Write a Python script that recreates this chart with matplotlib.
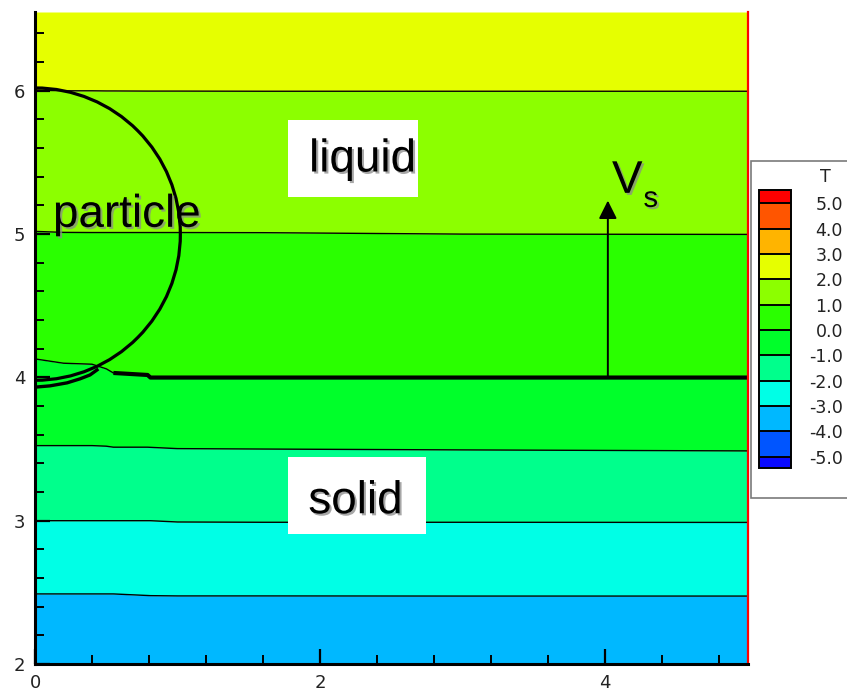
import matplotlib
matplotlib.use("Agg")
import matplotlib.pyplot as plt
import matplotlib.patheffects as pe
from matplotlib.patches import Rectangle, Circle
from matplotlib.colors import ListedColormap, BoundaryNorm
from matplotlib.cm import ScalarMappable
from matplotlib.ticker import MultipleLocator

plt.rcParams["axes.unicode_minus"] = False

# ---- temperature contour lines (y position of each level along x) ----
xs = [0.0, 0.2, 0.4, 0.5, 0.55, 0.79, 0.81, 1.0, 1.6, 3.0, 5.0]
y_Tm3 = [2.489, 2.489, 2.489, 2.489, 2.489, 2.478, 2.477, 2.475, 2.475, 2.474, 2.474]
y_Tm2 = [3.000, 3.000, 3.000, 3.000, 3.000, 3.000, 3.000, 2.991, 2.989, 2.989, 2.988]
y_Tm1 = [3.524, 3.524, 3.524, 3.520, 3.513, 3.513, 3.512, 3.503, 3.500, 3.494, 3.487]
y_T0 = [4.129, 4.099, 4.092, 4.060, 4.031, 4.017, 3.999, 3.999, 3.999, 3.999, 3.999]
y_T1 = [5.019, 5.012, 5.011, 5.011, 5.011, 5.011, 5.011, 5.011, 5.010, 5.000, 4.998]
y_T2 = [6.005, 6.000, 6.000, 5.999, 5.999, 5.998, 5.998, 5.998, 5.997, 5.997, 5.997]

contour_lines = [y_Tm3, y_Tm2, y_Tm1, y_T0, y_T1, y_T2]
band_colors = ["#00b8ff", "#00ffe6", "#00ff8c", "#00ff2a", "#2aff00", "#8cff00", "#e6ff00"]

# solidification front pulled around the particle near the axis
front_x = [0.0, 0.105, 0.225, 0.316, 0.386, 0.435]
front_y = [3.932, 3.941, 3.962, 3.990, 4.017, 4.052]

# particle (level-set circle)
particle_center = (0.0, 5.0)
particle_radius = 1.02

# growth velocity arrow
arrow_x = 4.02
arrow_y0 = 3.999
arrow_y1 = 5.234

# colour legend
legend_levels = [-5.0, -4.0, -3.0, -2.0, -1.0, 0.0, 1.0, 2.0, 3.0, 4.0, 5.0]
legend_colors = ["#0055ff", "#00b8ff", "#00ffe6", "#00ff8c", "#00ff2a",
                 "#2aff00", "#8cff00", "#e6ff00", "#ffb400", "#ff5500"]
under_color = "#0a0aff"
over_color = "#ff0000"

x_ticks = [0, 2, 4]
y_ticks = [2, 3, 4, 5, 6]

W, H = 847, 692
fig = plt.figure(figsize=(W / 100, H / 100), dpi=100)
ax = fig.add_axes([35 / W, 28 / H, 712.5 / W, 652 / H])
ymin, ymax = 2.0, 6.55
ax.set_xlim(0, 5)
ax.set_ylim(ymin, ymax)

# filled temperature bands
lowers = [[ymin] * len(xs)] + contour_lines
uppers = contour_lines + [[ymax] * len(xs)]
for lo, hi, c in zip(lowers, uppers, band_colors):
    ax.fill_between(xs, lo, hi, color=c, lw=0, zorder=1)

# contour lines
for ys in contour_lines:
    ax.plot(xs, ys, color="black", lw=1.0, zorder=2)

# thick solid/liquid interface
ax.plot(xs[4:], y_T0[4:], color="black", lw=3.0, solid_capstyle="butt", zorder=3)
ax.plot(front_x, front_y, color="black", lw=2.4, zorder=3)

# particle outline
ax.add_patch(Circle(particle_center, particle_radius, fill=False, ec="black",
                    lw=2.3, zorder=3))

# velocity arrow
ax.annotate("", xy=(arrow_x, arrow_y1), xytext=(arrow_x, arrow_y0),
            arrowprops=dict(arrowstyle="-|>,head_length=1.1,head_width=0.55",
                            mutation_scale=10, lw=1.4, color="black",
                            shrinkA=0, shrinkB=0),
            zorder=4)

shadow = [pe.withSimplePatchShadow(offset=(1.5, -1.5), shadow_rgbFace="#8a8a8a", alpha=0.75)]
label_font = dict(family=["Liberation Sans", "DejaVu Sans"], fontsize=33, color="black",
                  path_effects=shadow, zorder=6)

# region labels on white boxes
ax.add_patch(Rectangle((1.775, 5.260), 0.913, 0.537, fc="white", ec="none", zorder=5))
ax.add_patch(Rectangle((1.775, 2.907), 0.969, 0.538, fc="white", ec="none", zorder=5))
ax.text(1.923, 5.437, "liquid", ha="left", va="baseline", **label_font)
ax.text(1.918, 3.052, "solid", ha="left", va="baseline", **label_font)
ax.text(0.126, 5.051, "particle", ha="left", va="baseline", **label_font)
ax.text(4.049, 5.288, "V", ha="left", va="baseline", **label_font)
ax.text(4.27, 5.190, "s", ha="left", va="baseline",
        **{**label_font, "fontsize": 21})

# axes styling
for side in ("left", "bottom"):
    ax.spines[side].set_linewidth(2.2)
    ax.spines[side].set_color("black")
    ax.spines[side].set_zorder(7)
ax.spines["top"].set_visible(False)
ax.spines["right"].set_color("#ff0000")
ax.spines["right"].set_linewidth(1.6)
ax.spines["right"].set_zorder(7)

ax.set_xticks(x_ticks)
ax.set_yticks(y_ticks)
ax.xaxis.set_minor_locator(MultipleLocator(0.4))
ax.yaxis.set_minor_locator(MultipleLocator(0.2))
ax.tick_params(which="major", direction="in", length=11, width=1.6,
               labelsize=13, labelcolor="#222222", pad=7, top=False, right=False)
ax.tick_params(which="minor", direction="in", length=6.5, width=1.4,
               top=False, right=False)
for t in ax.get_xticklabels() + ax.get_yticklabels():
    t.set_fontfamily("DejaVu Sans")

# legend frame
fig.patches.append(Rectangle((751 / W, (H - 498) / H), 0.2, (498 - 160.7) / H,
                             transform=fig.transFigure, fc="white", ec="#7a7a7a",
                             lw=1.2, zorder=-1))

# colour legend
cmap = ListedColormap(legend_colors)
cmap.set_under(under_color)
cmap.set_over(over_color)
norm = BoundaryNorm(legend_levels, cmap.N)
cax = fig.add_axes([759 / W, (H - 468.3) / H, 32 / W, (468.3 - 190) / H])
cb = fig.colorbar(ScalarMappable(norm=norm, cmap=cmap), cax=cax, extend="both",
                  extendrect=True, extendfrac=(0.046, 0.0525), drawedges=True,
                  ticks=legend_levels, format="%.1f")
cb.outline.set_linewidth(1.4)
cb.outline.set_edgecolor("black")
cb.dividers.set_linewidth(1.4)
cb.dividers.set_color("black")
cax.tick_params(length=0, pad=37.4, labelsize=12.5, labelcolor="#222222")
for t in cax.get_yticklabels():
    t.set_ha("right")
    t.set_fontfamily("DejaVu Sans")
fig.text(825 / W, (H - 177) / H, "T", ha="center", va="center",
         fontsize=12.5, color="#222222", family="DejaVu Sans")

fig.savefig("out.png", dpi=100)
